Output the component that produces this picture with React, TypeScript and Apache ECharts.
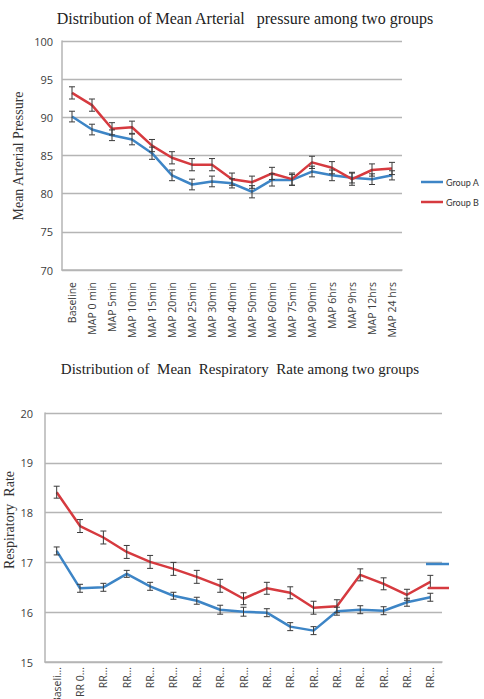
import React, { useEffect, useRef } from "react";
import * as echarts from "echarts";

const mapCategories = ["Baseline", "MAP 0 min", "MAP 5min", "MAP 10min", "MAP 15min", "MAP 20min", "MAP 25min", "MAP 30min", "MAP 40min", "MAP 50min", "MAP 60min", "MAP 75min", "MAP 90min", "MAP 6hrs", "MAP 9hrs", "MAP 12hrs", "MAP 24 hrs"];
const mapGroupA = [90.1, 88.4, 87.65, 87.1, 85.3, 82.4, 81.2, 81.6, 81.35, 80.25, 81.8, 81.8, 82.9, 82.4, 82.1, 81.9, 82.4];
const mapGroupB = [93.2, 91.6, 88.5, 88.7, 86.3, 84.7, 83.8, 83.8, 81.9, 81.5, 82.65, 81.9, 84.1, 83.4, 81.9, 83.1, 83.3];
const mapErrA = [0.7, 0.7, 0.7, 0.7, 0.8, 0.7, 0.7, 0.7, 0.6, 0.8, 0.8, 0.7, 0.7, 0.7, 0.7, 0.7, 0.6];
const mapErrB = [0.8, 0.8, 0.8, 0.8, 0.8, 0.8, 0.8, 0.8, 0.8, 0.8, 0.8, 0.8, 0.8, 0.8, 0.8, 0.8, 0.8];

const rrCategories = ["Baseli...", "RR 0...", "RR...", "RR...", "RR...", "RR...", "RR...", "RR...", "RR...", "RR...", "RR...", "RR...", "RR...", "RR...", "RR...", "RR...", "RR..."];
const rrGroupA = [17.23, 16.48, 16.5, 16.77, 16.52, 16.33, 16.23, 16.05, 16.01, 15.99, 15.71, 15.63, 16.02, 16.05, 16.03, 16.2, 16.3];
const rrGroupB = [18.41, 17.73, 17.5, 17.21, 17.01, 16.87, 16.71, 16.53, 16.27, 16.48, 16.39, 16.09, 16.12, 16.75, 16.57, 16.35, 16.61];
const rrErrA = [0.08, 0.08, 0.08, 0.07, 0.08, 0.07, 0.07, 0.09, 0.09, 0.08, 0.08, 0.08, 0.08, 0.08, 0.08, 0.08, 0.08];
const rrErrB = [0.12, 0.13, 0.13, 0.13, 0.13, 0.13, 0.13, 0.13, 0.12, 0.12, 0.12, 0.13, 0.13, 0.12, 0.12, 0.11, 0.13];

const BLUE = "#3d85c6";
const RED = "#d63a3f";
const GRID = "#b5b5b5";
const SANS = "Open Sans";
const SERIF = "Liberation Serif";

function errData(vals: number[], errs: number[]) {
  return vals.map((v, i) => [i, v - errs[i], v + errs[i]]);
}

function renderErr(params: any, api: any) {
  const x = api.value(0);
  const lo = api.coord([x, api.value(1)]);
  const hi = api.coord([x, api.value(2)]);
  const w = 3;
  const style = { stroke: "#3a3a3a", lineWidth: 1 };
  return {
    type: "group",
    children: [
      { type: "line", shape: { x1: lo[0], y1: lo[1], x2: hi[0], y2: hi[1] }, style },
      { type: "line", shape: { x1: lo[0] - w, y1: lo[1], x2: lo[0] + w, y2: lo[1] }, style },
      { type: "line", shape: { x1: hi[0] - w, y1: hi[1], x2: hi[0] + w, y2: hi[1] }, style },
    ],
  };
}

export default function App() {
  const ref = useRef<HTMLDivElement>(null);
  useEffect(() => {
    if (!ref.current) return;
    const chart = echarts.init(ref.current, null, { renderer: "svg" });
    const xAxisCommon = {
      type: "category" as const,
      boundaryGap: true,
      axisTick: { show: false },
      axisLine: { lineStyle: { color: GRID, width: 1.5 } },
      axisLabel: { rotate: 90, color: "#404040", fontFamily: SANS, fontSize: 10.5, interval: 0 },
    };
    const yAxisCommon = {
      type: "value" as const,
      axisTick: { show: false },
      axisLine: { show: true, lineStyle: { color: GRID, width: 1.5 } },
      splitLine: { lineStyle: { color: GRID, width: 1.3 } },
      axisLabel: { color: "#404040", fontFamily: SANS, fontSize: 11 },
    };
    chart.setOption({
      animation: false,
      grid: [
        { left: 62, top: 41, width: 340, height: 229, outerBoundsMode: "none", containLabel: false },
        { left: 45, top: 413, width: 397, height: 249, outerBoundsMode: "none", containLabel: false },
      ],
      xAxis: [
        { ...xAxisCommon, gridIndex: 0, data: mapCategories, axisLabel: { ...xAxisCommon.axisLabel, margin: 12 } },
        { ...xAxisCommon, gridIndex: 1, data: rrCategories, axisLabel: { ...xAxisCommon.axisLabel, fontSize: 10.5, margin: 5 } },
      ],
      yAxis: [
        { ...yAxisCommon, gridIndex: 0, min: 70, max: 100, interval: 5, axisLabel: { ...yAxisCommon.axisLabel, margin: 9 } },
        { ...yAxisCommon, gridIndex: 1, min: 15, max: 20, interval: 1, axisLabel: { ...yAxisCommon.axisLabel, margin: 12 } },
      ],
      series: [
        { type: "line", name: "Group A", xAxisIndex: 0, yAxisIndex: 0, data: mapGroupA, symbol: "none", lineStyle: { color: BLUE, width: 2.5 }, z: 2 },
        { type: "line", name: "Group B", xAxisIndex: 0, yAxisIndex: 0, data: mapGroupB, symbol: "none", lineStyle: { color: RED, width: 2.5 }, z: 2 },
        { type: "custom", xAxisIndex: 0, yAxisIndex: 0, data: errData(mapGroupA, mapErrA), renderItem: renderErr, encode: { x: 0, y: [1, 2] }, z: 5 },
        { type: "custom", xAxisIndex: 0, yAxisIndex: 0, data: errData(mapGroupB, mapErrB), renderItem: renderErr, encode: { x: 0, y: [1, 2] }, z: 5 },
        { type: "line", name: "Group A", xAxisIndex: 1, yAxisIndex: 1, data: rrGroupA, symbol: "none", lineStyle: { color: BLUE, width: 2.5 }, z: 2 },
        { type: "line", name: "Group B", xAxisIndex: 1, yAxisIndex: 1, data: rrGroupB, symbol: "none", lineStyle: { color: RED, width: 2.5 }, z: 2 },
        { type: "custom", xAxisIndex: 1, yAxisIndex: 1, data: errData(rrGroupA, rrErrA), renderItem: renderErr, encode: { x: 0, y: [1, 2] }, z: 5 },
        { type: "custom", xAxisIndex: 1, yAxisIndex: 1, data: errData(rrGroupB, rrErrB), renderItem: renderErr, encode: { x: 0, y: [1, 2] }, z: 5 },
      ],
      graphic: [
        { type: "text", x: 245, y: 18, style: { text: "Distribution of Mean Arterial   pressure among two groups", font: `16px "${SERIF}"`, fill: "#222", align: "center", verticalAlign: "middle" } },
        { type: "text", x: 240, y: 369, style: { text: "Distribution of  Mean  Respiratory  Rate among two groups", font: `15px "${SERIF}"`, fill: "#222", align: "center", verticalAlign: "middle" } },
        { type: "text", x: 18, y: 156, rotation: Math.PI / 2, style: { text: "Mean Arterial Pressure", font: `14px "${SERIF}"`, fill: "#333", align: "center", verticalAlign: "middle" } },
        { type: "text", x: 9, y: 520, rotation: Math.PI / 2, style: { text: "Respiratory  Rate", font: `14px "${SERIF}"`, fill: "#333", align: "center", verticalAlign: "middle" } },
        { type: "line", shape: { x1: 421, y1: 182, x2: 443, y2: 182 }, style: { stroke: BLUE, lineWidth: 2.5 } },
        { type: "line", shape: { x1: 421, y1: 202, x2: 443, y2: 202 }, style: { stroke: RED, lineWidth: 2.5 } },
        { type: "text", x: 446, y: 182, style: { text: "Group A", font: `9px "Lato"`, fill: "#333", verticalAlign: "middle" } },
        { type: "text", x: 446, y: 202, style: { text: "Group B", font: `9px "Lato"`, fill: "#333", verticalAlign: "middle" } },
        { type: "line", shape: { x1: 426, y1: 564, x2: 449, y2: 564 }, style: { stroke: BLUE, lineWidth: 2.5 }, z: 10 },
        { type: "line", shape: { x1: 428, y1: 588, x2: 449, y2: 588 }, style: { stroke: RED, lineWidth: 2.5 }, z: 10 },
      ],
    });
    return () => chart.dispose();
  }, []);
  return <div ref={ref} style={{ position: "absolute", left: 0, top: 0, width: 484, height: 699, background: "#fff" }} />;
}
